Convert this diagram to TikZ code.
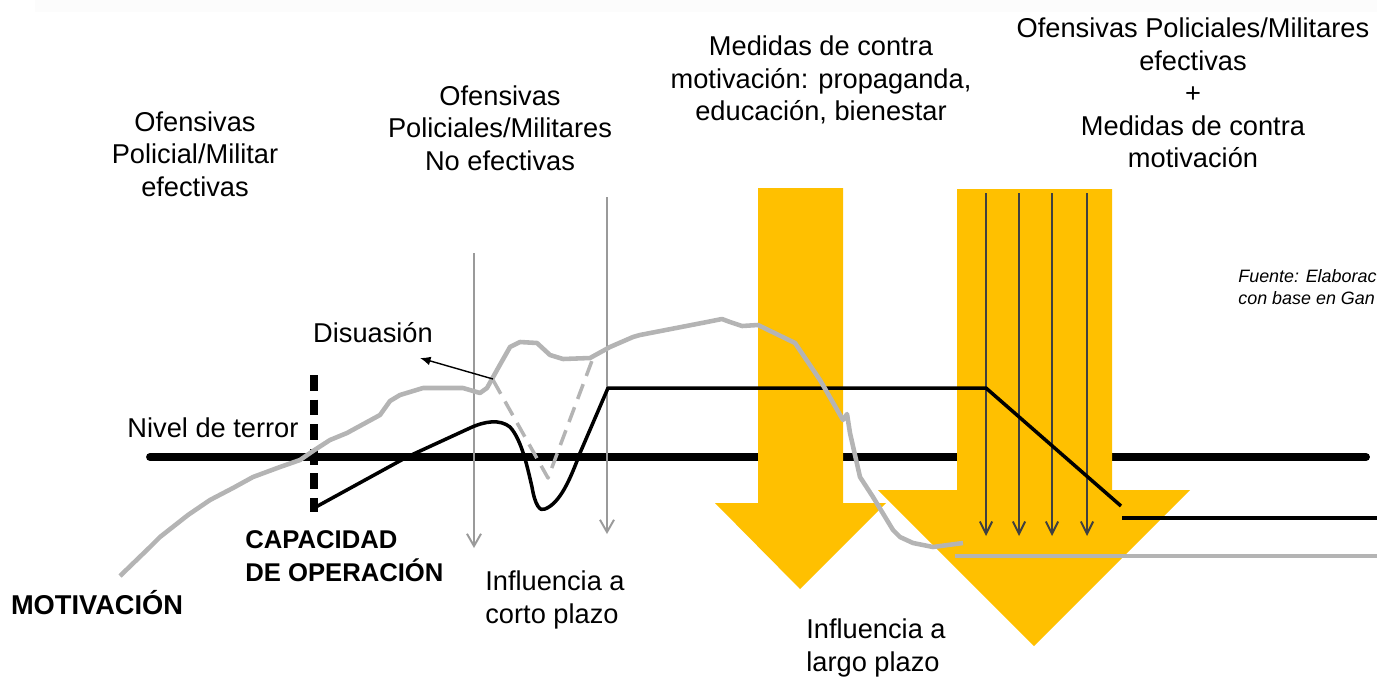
\documentclass[tikz,border=0pt]{standalone}
\usepackage{fontspec}
\setmainfont{Liberation Sans}
\usetikzlibrary{arrows.meta}
\definecolor{amber}{HTML}{FFC000}
\definecolor{motgray}{HTML}{B4B4B4}
\definecolor{axgray}{HTML}{9A9A9A}
\definecolor{darkline}{HTML}{404040}
\tikzset{
  txt/.style={inner sep=0pt, align=center, font=\fontsize{15.5}{18.5}\selectfont},
  boldtxt/.style={txt, font=\fontsize{15}{18.5}\selectfont\bfseries},
  timearrow/.style={axgray, line width=1.1pt, -{Straight Barb[length=7pt,width=8pt]}},
  pusharrow/.style={darkline, line width=1.1pt, -{Straight Barb[length=7pt,width=7pt]}},
  bigarrow/.style={fill=amber, draw=none},
}

\begin{document}
\begin{tikzpicture}[x=0.02cm, y=-0.02cm, line join=round]
\useasboundingbox (0,0) rectangle (1377,677);
\fill[black!1] (35,0) rectangle (1377,12);

% nivel de terror
\draw[line width=4.5pt, line cap=round] (150,457) -- (1366,457);

% flechas amarillas
\fill[bigarrow] (758,188) -- (843,188) -- (843,503) -- (886,503) -- (800,589) -- (715,503) -- (758,503) -- cycle;
\fill[bigarrow] (957,189) -- (1112,189) -- (1112,490) -- (1190,490) -- (1034,646) -- (878,490) -- (957,490) -- cycle;

% lineas de tiempo
\coordinate (t1a) at (474,253);
\coordinate (t1b) at (474,548);
\coordinate (t2a) at (607,197);
\coordinate (t2b) at (607,534);
\draw[timearrow] (t1a) -- (t1b);
\draw[timearrow] (t2a) -- (t2b);

\foreach \x in {986,1019,1052,1087}
  \draw[pusharrow] (\x,193) -- (\x,536);

% capacidad de operacion
\draw[line width=4pt, dash pattern=on 9pt off 5pt] (314,375) -- (314,512);
\draw[line width=2pt] (314,508) -- (407,457) -- (470,428)
  .. controls (485,421) and (500,419) .. (510,427)
  .. controls (522,440) and (528,470) .. (532,487)
  .. controls (535,505) and (540,512) .. (545,509)
  .. controls (560,503) and (570,480) .. (580,453)
  -- (608,388) -- (986,388) -- (1121,506);
\draw[line width=2pt] (1122,518) -- (1377,518);

% motivacion
\draw[motgray, line width=2pt, dash pattern=on 9pt off 5pt] (493,380) -- (548,478) -- (593,358);
\draw[motgray, line width=2.6pt] (120,576) -- (150,547) -- (160,537) -- (188,515) -- (210,500)
  -- (233,488) -- (253,477) -- (280,467) -- (300,460) -- (313,451) -- (330,440)
  -- (347,433) -- (380,415) -- (390,401) -- (400,395) -- (423,388) -- (463,388)
  -- (480,393) -- (487,388) -- (497,370) -- (510,347) -- (520,342) -- (537,343)
  -- (550,355) -- (563,359) -- (590,358) -- (610,347) -- (633,337) -- (640,335)
  -- (707,322) -- (722,319) -- (730,322) -- (742,326) -- (758,325) -- (795,343)
  -- (820,380) -- (843,420) -- (847,414) -- (850,433) -- (860,477) -- (873,497)
  -- (893,530) -- (900,537) -- (913,543) -- (933,547) -- (963,543);
\draw[motgray, line width=2.6pt] (955,556) -- (1377,556);

% textos
\node[txt] (efect) at (195,154) {Ofensivas\\Policial/Militar\\efectivas};
\node[txt] (noefect) at (500,128) {Ofensivas\\Policiales/Militares\\No efectivas};
\node[txt] (medidas) at (821,80) {Medidas de contra\\motivación: propaganda,\\educación, bienestar};
\node[txt] (combo) at (1193,93) {Ofensivas Policiales/Militares\\efectivas\\+\\Medidas de contra\\motivación};
\node[txt, anchor=west, align=left, font=\fontsize{10.2}{12.5}\selectfont\itshape] (fuente) at (1238,287) {Fuente: Elaborac\\con base en Gan};
\node[txt] (disu) at (373,333) {Disuasión};
\node[txt] (terror) at (213,428) {Nivel de terror};
\node[boldtxt, anchor=west, align=left, font=\fontsize{14.6}{18.5}\selectfont\bfseries] (capac) at (245,556) {CAPACIDAD\\DE OPERACIÓN};
\node[boldtxt, font=\fontsize{15.5}{18.5}\selectfont\bfseries] (motiv) at (97,603) {MOTIVACIÓN};
\node[txt, anchor=west, align=left] (corto) at (485,600) {Influencia a\\corto plazo};
\node[txt, anchor=west, align=left] (largo) at (806,648) {Influencia a\\largo plazo};

\coordinate (disufrom) at (493,379);
\coordinate (disuto) at (420,358);
\draw[line width=0.8pt, -{Latex[length=6pt,width=5pt]}] (disufrom) -- (disuto);
\end{tikzpicture}
\end{document}
